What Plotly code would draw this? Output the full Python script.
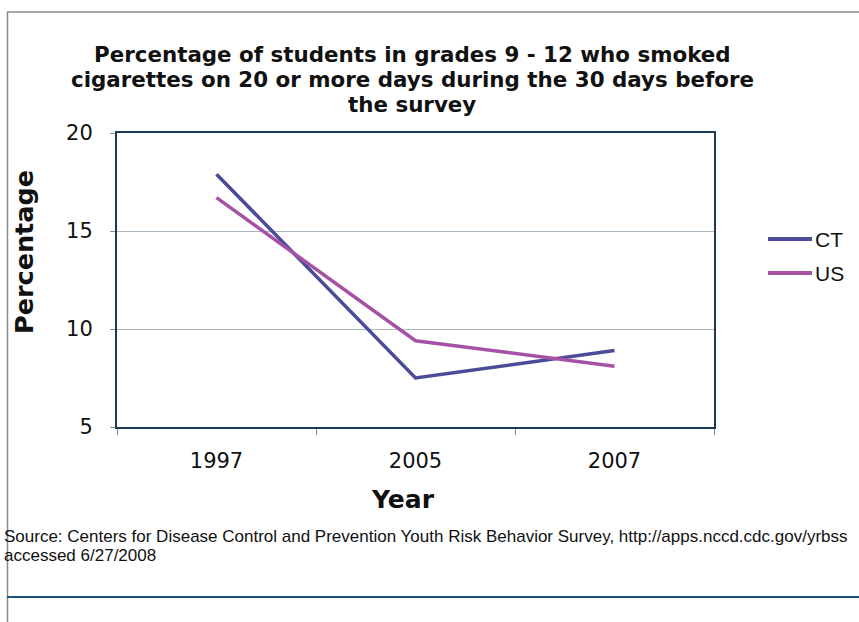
import plotly.graph_objects as go

# Survey years and the share of grade 9-12 students smoking on 20+ of the last 30 days
years = ["1997", "2005", "2007"]
ct_values = [17.9, 7.5, 8.9]
us_values = [16.7, 9.4, 8.1]
y_ticks = [5, 10, 15, 20]
series_names = ["CT", "US"]
series_colors = ["#4a4c97", "#a552a6"]
title_lines = [
    "Percentage of students in grades 9 - 12 who smoked",
    "cigarettes on 20 or more days during the 30 days before",
    "the survey",
]
source_lines = [
    "Source: Centers for Disease Control and Prevention Youth Risk Behavior Survey, "
    "http://apps.nccd.cdc.gov/yrbss",
    "accessed 6/27/2008",
]

W, H = 859, 622
L, R, T, B = 117, 714, 133, 427


def px(xp):
    return (xp - L) / (R - L)


def py(yp):
    return (B - yp) / (B - T)


fig = go.Figure()
for name, vals, col in zip(series_names, [ct_values, us_values], series_colors):
    fig.add_trace(go.Scatter(x=years, y=vals, name=name, mode="lines",
                             line=dict(color=col, width=3.5), showlegend=False))

fig.update_layout(
    width=W, height=H,
    margin=dict(l=L, r=W - R, t=T, b=H - B, autoexpand=False),
    paper_bgcolor="white", plot_bgcolor="white",
    font=dict(family="DejaVu Sans", color="#111111"),
    showlegend=False,
    xaxis=dict(type="category", range=[-0.5, 2.5], showgrid=False,
               tickson="boundaries", ticks="outside", ticklen=6, tickcolor="#888888",
               tickfont=dict(size=21, family="DejaVu Sans"),
               showline=True, linecolor="#1c3a55", linewidth=2, mirror=True,
               zeroline=False, ticklabelstandoff=14),
    yaxis=dict(range=[5, 20], tickvals=y_ticks, showgrid=True,
               gridcolor="#a9b7c2", gridwidth=1,
               ticks="outside", ticklen=5, tickcolor="#888888",
               tickfont=dict(size=21, family="DejaVu Sans"),
               showline=True, linecolor="#1c3a55", linewidth=2, mirror=True,
               zeroline=False, ticklabelstandoff=13),
)

# Chart title, one annotation per line
for line, yc in zip(title_lines, [54, 79, 104]):
    fig.add_annotation(x=px(412), y=py(yc), xref="paper", yref="paper",
                       text="<b>" + line + "</b>", showarrow=False,
                       xanchor="center", yanchor="middle",
                       font=dict(family="DejaVu Sans", size=21.4, color="#111111"))

# Axis titles
fig.add_annotation(x=px(24), y=py(252), xref="paper", yref="paper",
                   text="<b>Percentage</b>", textangle=-90, showarrow=False,
                   xanchor="center", yanchor="middle",
                   font=dict(family="DejaVu Sans", size=25.5, color="#111111"))
fig.add_annotation(x=px(403), y=py(499), xref="paper", yref="paper",
                   text="<b>Year</b>", showarrow=False,
                   xanchor="center", yanchor="middle",
                   font=dict(family="DejaVu Sans", size=25, color="#111111"))

# Legend drawn beside the plot area
for name, col, yc in zip(series_names, series_colors, [239, 273]):
    fig.add_shape(type="line", xref="paper", yref="paper",
                  x0=px(768), x1=px(812), y0=py(yc), y1=py(yc),
                  line=dict(color=col, width=4))
    fig.add_annotation(x=px(813), y=py(yc), xref="paper", yref="paper",
                       text=name, showarrow=False, xanchor="left", yanchor="middle",
                       font=dict(family="Liberation Sans", size=21, color="#111111"))

# Source note
for line, yc in zip(source_lines, [536, 555]):
    fig.add_annotation(x=px(2), y=py(yc), xref="paper", yref="paper",
                       text=line, showarrow=False, align="left",
                       xanchor="left", yanchor="middle",
                       font=dict(family="Liberation Sans", size=17.0, color="#111111"))

# Page frame lines
fig.add_shape(type="line", xref="paper", yref="paper", x0=px(7), x1=px(W + 5),
              y0=py(12), y1=py(12), line=dict(color="#888888", width=1.5))
fig.add_shape(type="line", xref="paper", yref="paper", x0=px(7.5), x1=px(7.5),
              y0=py(12), y1=py(H + 5), line=dict(color="#888888", width=1.5))
fig.add_shape(type="line", xref="paper", yref="paper", x0=px(7), x1=px(W + 5),
              y0=py(597), y1=py(597), line=dict(color="#1f4e73", width=2))

fig.write_html("out.html")
